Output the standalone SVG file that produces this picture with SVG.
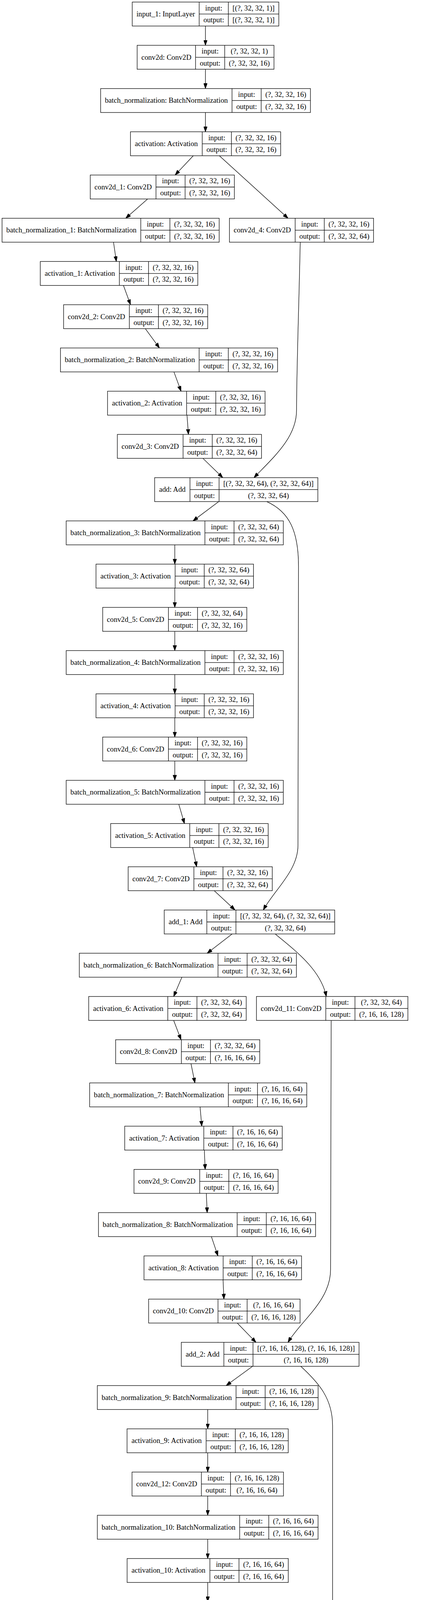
<svg xmlns="http://www.w3.org/2000/svg" width="1138" height="7377" viewBox="0 0 1138 7377">
<style>
rect.nd{fill:#fff;stroke:#000;stroke-width:1.3}
path.dv{fill:none;stroke:#000;stroke-width:1.3}
text{font-family:"Liberation Serif","Times New Roman",serif;font-size:18.67px;text-anchor:middle;fill:#000}
#edges path{fill:none;stroke:#000;stroke-width:1.3;marker-end:url(#ah)}
</style>
<defs>
<marker id="ah" viewBox="0 0 13.3 9.4" refX="13.3" refY="4.7" markerWidth="13.3" markerHeight="9.4" markerUnits="userSpaceOnUse" orient="auto"><path d="M0,0 L13.3,4.7 L0,9.4 z" fill="#000" stroke="#000" stroke-width="1"/></marker>
</defs>
<rect x="0" y="0" width="1138" height="7377" fill="#fff"/>
<g id="edges">
<path d="M525.4,66.6 L525.4,116.0"/>
<path d="M525.4,177.3 L525.4,226.7"/>
<path d="M525.4,288.0 L525.4,337.4"/>
<path d="M494.2,398.7 L447.8,448.1"/>
<path d="M561.0,398.7 L736.6,558.7"/>
<path d="M377.4,509.4 L321.5,558.7"/>
<path d="M290.3,620.0 L297.5,669.4"/>
<path d="M315.7,730.7 L333.8,780.1"/>
<path d="M371.6,841.4 L407.8,890.8"/>
<path d="M444.8,952.1 L463.0,1001.5"/>
<path d="M478.2,1062.8 L481.9,1112.1"/>
<path d="M518.9,1173.4 L569.7,1222.8"/>
<path d="M767.8,620.0 C764,800 758.4,950 758.4,1050 C758.4,1120 700,1170 649.5,1222.8"/>
<path d="M559.5,1284.1 L493.5,1333.5"/>
<path d="M682.1,1284.1 C740,1310 763.4,1360 763.4,1450 L762,2164 C762,2230 700,2280 673.4,2329.6"/>
<path d="M447.0,1394.8 L447.0,1444.2"/>
<path d="M447.0,1505.5 L447.0,1554.9"/>
<path d="M447.0,1616.2 L447.0,1665.5"/>
<path d="M447.0,1726.8 L447.0,1776.2"/>
<path d="M447.0,1837.5 L447.0,1886.9"/>
<path d="M447.0,1948.2 L447.0,1997.6"/>
<path d="M457.2,2058.9 L471.7,2108.3"/>
<path d="M492.7,2169.6 L502.9,2218.9"/>
<path d="M547.9,2280.2 L600.9,2329.6"/>
<path d="M593.6,2390.9 L529.8,2440.3"/>
<path d="M703.9,2390.9 C750,2430 820,2480 834.5,2551.0"/>
<path d="M465.2,2501.6 L444.1,2551.0"/>
<path d="M444.1,2612.3 L463.0,2661.7"/>
<path d="M488.4,2723.0 L498.5,2772.3"/>
<path d="M511.6,2833.6 L516.0,2883.0"/>
<path d="M522.5,2944.3 L524.7,2993.7"/>
<path d="M527.6,3055.0 L529.8,3104.4"/>
<path d="M540.6,3165.7 L557.3,3215.1"/>
<path d="M570.4,3276.4 L572.6,3325.7"/>
<path d="M606.7,3387.0 L654.6,3436.4"/>
<path d="M846.9,2612.3 L845.4,3250 C845.4,3330 770,3380 736.6,3436.4"/>
<path d="M645.9,3497.7 L578.4,3547.1"/>
<path d="M769.2,3497.7 C815,3540 850.5,3580 850.5,3650 L850.5,4370 C850.5,4450 790,4500 760.5,4543.2"/>
<path d="M531.2,3608.4 L531.2,3657.8"/>
<path d="M531.2,3719.1 L531.2,3768.5"/>
<path d="M531.2,3829.8 L531.2,3879.1"/>
<path d="M531.2,3940.4 L531.2,3989.8"/>
<path d="M531.2,4051.1 L531.2,4100.5"/>
<path d="M531.2,4161.8 L531.2,4211.2"/>
<path d="M541.4,4272.5 L556.0,4321.9"/>
<path d="M576.9,4383.2 L584.2,4432.5"/>
<path d="M631.3,4493.8 L683.6,4543.2"/>
<path d="M676.3,4604.5 L608.1,4653.9"/>
<path d="M792.5,4604.5 C840,4640 905,4690 921.6,4764.6"/>
<path d="M543.5,4715.2 L524.0,4764.6"/>
<path d="M524.0,4825.9 L545.7,4875.3"/>
<path d="M572.6,4936.6 L584.2,4985.9"/>
<path d="M597.2,5047.2 L602.3,5096.6"/>
<path d="M609.6,5157.9 L612.5,5207.3"/>
<path d="M615.4,5268.6 L616.8,5318.0"/>
<path d="M628.4,5379.3 L644.4,5428.7"/>
<path d="M670.5,5490.0 L689.4,5539.3"/>
<path d="M736.6,5600.6 L780.1,5650.0"/>
<path d="M936.1,4825.9 L934.7,5480 C934.7,5560 890,5610 863.6,5650.0"/>
<path d="M769.2,5711.3 L703.9,5760.7"/>
<path d="M892.6,5711.3 C935,5745 974.6,5790 974.6,5850 L972.4,6600 C972.4,6680 925,6720 899.9,6756.8"/>
<path d="M657.5,5822.0 L657.5,5871.4"/>
<path d="M657.5,5932.7 L657.5,5982.1"/>
<path d="M657.5,6043.4 L657.5,6092.7"/>
<path d="M657.5,6154.0 L657.5,6203.4"/>
<path d="M657.5,6264.7 L657.5,6314.1"/>
<path d="M657.5,6375.4 L657.5,6424.8"/>
<path d="M669.1,6486.1 L682.1,6535.5"/>
<path d="M709.7,6596.8 L727.9,6646.1"/>
<path d="M775.0,6707.4 L818.6,6756.8"/>
<path d="M853.4,6818.1 L853.4,6867.5"/>
<path d="M853.4,6928.8 L853.4,6978.2"/>
<path d="M853.4,7039.5 L853.4,7088.9"/>
<path d="M853.4,7150.2 L853.4,7199.5"/>
<path d="M853.4,7260.8 L853.4,7310.2"/>
</g>
<g id="nodes">
<g id="input_1" transform="translate(338.2,5.3)"><rect class="nd" width="374.8" height="61.3"/><path class="dv" d="M171.2,0V61.3M245.7,0V61.3M171.2,30.65H374.8"/><text x="85.6" y="36.7">input_1: InputLayer</text><text x="208.45" y="21.3">input:</text><text x="208.45" y="52">output:</text><text x="310.25" y="21.3">[(?, 32, 32, 1)]</text><text x="310.25" y="52">[(?, 32, 32, 1)]</text></g>
<g id="conv2d" transform="translate(350.7,116.0)"><rect class="nd" width="349.9" height="61.3"/><path class="dv" d="M149.4,0V61.3M223.9,0V61.3M149.4,30.65H349.9"/><text x="74.7" y="36.7">conv2d: Conv2D</text><text x="186.65" y="21.3">input:</text><text x="186.65" y="52">output:</text><text x="286.9" y="21.3">(?, 32, 32, 1)</text><text x="286.9" y="52">(?, 32, 32, 16)</text></g>
<g id="batch_normalization" transform="translate(257.4,226.7)"><rect class="nd" width="536.5" height="61.3"/><path class="dv" d="M336,0V61.3M410.5,0V61.3M336,30.65H536.5"/><text x="168" y="36.7">batch_normalization: BatchNormalization</text><text x="373.25" y="21.3">input:</text><text x="373.25" y="52">output:</text><text x="473.5" y="21.3">(?, 32, 32, 16)</text><text x="473.5" y="52">(?, 32, 32, 16)</text></g>
<g id="activation" transform="translate(333.6,337.4)"><rect class="nd" width="384.1" height="61.3"/><path class="dv" d="M183.6,0V61.3M258.1,0V61.3M183.6,30.65H384.1"/><text x="91.8" y="36.7">activation: Activation</text><text x="220.85" y="21.3">input:</text><text x="220.85" y="52">output:</text><text x="321.1" y="21.3">(?, 32, 32, 16)</text><text x="321.1" y="52">(?, 32, 32, 16)</text></g>
<g id="conv2d_1" transform="translate(230.8,448.1)"><rect class="nd" width="368.6" height="61.3"/><path class="dv" d="M168.1,0V61.3M242.6,0V61.3M168.1,30.65H368.6"/><text x="84.05" y="36.7">conv2d_1: Conv2D</text><text x="205.35" y="21.3">input:</text><text x="205.35" y="52">output:</text><text x="305.6" y="21.3">(?, 32, 32, 16)</text><text x="305.6" y="52">(?, 32, 32, 16)</text></g>
<g id="batch_normalization_1" transform="translate(5.3,558.7)"><rect class="nd" width="555.2" height="61.3"/><path class="dv" d="M354.7,0V61.3M429.2,0V61.3M354.7,30.65H555.2"/><text x="177.35" y="36.7">batch_normalization_1: BatchNormalization</text><text x="391.95" y="21.3">input:</text><text x="391.95" y="52">output:</text><text x="492.2" y="21.3">(?, 32, 32, 16)</text><text x="492.2" y="52">(?, 32, 32, 16)</text></g>
<g id="conv2d_4" transform="translate(586.7,558.7)"><rect class="nd" width="368.6" height="61.3"/><path class="dv" d="M168.1,0V61.3M242.6,0V61.3M168.1,30.65H368.6"/><text x="84.05" y="36.7">conv2d_4: Conv2D</text><text x="205.35" y="21.3">input:</text><text x="205.35" y="52">output:</text><text x="305.6" y="21.3">(?, 32, 32, 16)</text><text x="305.6" y="52">(?, 32, 32, 64)</text></g>
<g id="activation_1" transform="translate(103.0,669.4)"><rect class="nd" width="402.8" height="61.3"/><path class="dv" d="M202.3,0V61.3M276.8,0V61.3M202.3,30.65H402.8"/><text x="101.15" y="36.7">activation_1: Activation</text><text x="239.55" y="21.3">input:</text><text x="239.55" y="52">output:</text><text x="339.8" y="21.3">(?, 32, 32, 16)</text><text x="339.8" y="52">(?, 32, 32, 16)</text></g>
<g id="conv2d_2" transform="translate(162.6,780.1)"><rect class="nd" width="368.6" height="61.3"/><path class="dv" d="M168.1,0V61.3M242.6,0V61.3M168.1,30.65H368.6"/><text x="84.05" y="36.7">conv2d_2: Conv2D</text><text x="205.35" y="21.3">input:</text><text x="205.35" y="52">output:</text><text x="305.6" y="21.3">(?, 32, 32, 16)</text><text x="305.6" y="52">(?, 32, 32, 16)</text></g>
<g id="batch_normalization_2" transform="translate(154.6,890.8)"><rect class="nd" width="555.2" height="61.3"/><path class="dv" d="M354.7,0V61.3M429.2,0V61.3M354.7,30.65H555.2"/><text x="177.35" y="36.7">batch_normalization_2: BatchNormalization</text><text x="391.95" y="21.3">input:</text><text x="391.95" y="52">output:</text><text x="492.2" y="21.3">(?, 32, 32, 16)</text><text x="492.2" y="52">(?, 32, 32, 16)</text></g>
<g id="activation_2" transform="translate(275.0,1001.5)"><rect class="nd" width="402.8" height="61.3"/><path class="dv" d="M202.3,0V61.3M276.8,0V61.3M202.3,30.65H402.8"/><text x="101.15" y="36.7">activation_2: Activation</text><text x="239.55" y="21.3">input:</text><text x="239.55" y="52">output:</text><text x="339.8" y="21.3">(?, 32, 32, 16)</text><text x="339.8" y="52">(?, 32, 32, 16)</text></g>
<g id="conv2d_3" transform="translate(300.1,1112.1)"><rect class="nd" width="368.6" height="61.3"/><path class="dv" d="M168.1,0V61.3M242.6,0V61.3M168.1,30.65H368.6"/><text x="84.05" y="36.7">conv2d_3: Conv2D</text><text x="205.35" y="21.3">input:</text><text x="205.35" y="52">output:</text><text x="305.6" y="21.3">(?, 32, 32, 16)</text><text x="305.6" y="52">(?, 32, 32, 64)</text></g>
<g id="add" transform="translate(395.5,1222.8)"><rect class="nd" width="417.3" height="61.3"/><path class="dv" d="M90.3,0V61.3M164.8,0V61.3M90.3,30.65H417.3"/><text x="45.15" y="36.7">add: Add</text><text x="127.55" y="21.3">input:</text><text x="127.55" y="52">output:</text><text x="291.05" y="21.3">[(?, 32, 32, 64), (?, 32, 32, 64)]</text><text x="291.05" y="52">(?, 32, 32, 64)</text></g>
<g id="batch_normalization_3" transform="translate(169.3,1333.5)"><rect class="nd" width="555.2" height="61.3"/><path class="dv" d="M354.7,0V61.3M429.2,0V61.3M354.7,30.65H555.2"/><text x="177.35" y="36.7">batch_normalization_3: BatchNormalization</text><text x="391.95" y="21.3">input:</text><text x="391.95" y="52">output:</text><text x="492.2" y="21.3">(?, 32, 32, 64)</text><text x="492.2" y="52">(?, 32, 32, 64)</text></g>
<g id="activation_3" transform="translate(245.5,1444.2)"><rect class="nd" width="402.8" height="61.3"/><path class="dv" d="M202.3,0V61.3M276.8,0V61.3M202.3,30.65H402.8"/><text x="101.15" y="36.7">activation_3: Activation</text><text x="239.55" y="21.3">input:</text><text x="239.55" y="52">output:</text><text x="339.8" y="21.3">(?, 32, 32, 64)</text><text x="339.8" y="52">(?, 32, 32, 64)</text></g>
<g id="conv2d_5" transform="translate(262.6,1554.9)"><rect class="nd" width="368.6" height="61.3"/><path class="dv" d="M168.1,0V61.3M242.6,0V61.3M168.1,30.65H368.6"/><text x="84.05" y="36.7">conv2d_5: Conv2D</text><text x="205.35" y="21.3">input:</text><text x="205.35" y="52">output:</text><text x="305.6" y="21.3">(?, 32, 32, 64)</text><text x="305.6" y="52">(?, 32, 32, 16)</text></g>
<g id="batch_normalization_4" transform="translate(169.3,1665.5)"><rect class="nd" width="555.2" height="61.3"/><path class="dv" d="M354.7,0V61.3M429.2,0V61.3M354.7,30.65H555.2"/><text x="177.35" y="36.7">batch_normalization_4: BatchNormalization</text><text x="391.95" y="21.3">input:</text><text x="391.95" y="52">output:</text><text x="492.2" y="21.3">(?, 32, 32, 16)</text><text x="492.2" y="52">(?, 32, 32, 16)</text></g>
<g id="activation_4" transform="translate(245.5,1776.2)"><rect class="nd" width="402.8" height="61.3"/><path class="dv" d="M202.3,0V61.3M276.8,0V61.3M202.3,30.65H402.8"/><text x="101.15" y="36.7">activation_4: Activation</text><text x="239.55" y="21.3">input:</text><text x="239.55" y="52">output:</text><text x="339.8" y="21.3">(?, 32, 32, 16)</text><text x="339.8" y="52">(?, 32, 32, 16)</text></g>
<g id="conv2d_6" transform="translate(262.6,1886.9)"><rect class="nd" width="368.6" height="61.3"/><path class="dv" d="M168.1,0V61.3M242.6,0V61.3M168.1,30.65H368.6"/><text x="84.05" y="36.7">conv2d_6: Conv2D</text><text x="205.35" y="21.3">input:</text><text x="205.35" y="52">output:</text><text x="305.6" y="21.3">(?, 32, 32, 16)</text><text x="305.6" y="52">(?, 32, 32, 16)</text></g>
<g id="batch_normalization_5" transform="translate(169.3,1997.6)"><rect class="nd" width="555.2" height="61.3"/><path class="dv" d="M354.7,0V61.3M429.2,0V61.3M354.7,30.65H555.2"/><text x="177.35" y="36.7">batch_normalization_5: BatchNormalization</text><text x="391.95" y="21.3">input:</text><text x="391.95" y="52">output:</text><text x="492.2" y="21.3">(?, 32, 32, 16)</text><text x="492.2" y="52">(?, 32, 32, 16)</text></g>
<g id="activation_5" transform="translate(283.0,2108.3)"><rect class="nd" width="402.8" height="61.3"/><path class="dv" d="M202.3,0V61.3M276.8,0V61.3M202.3,30.65H402.8"/><text x="101.15" y="36.7">activation_5: Activation</text><text x="239.55" y="21.3">input:</text><text x="239.55" y="52">output:</text><text x="339.8" y="21.3">(?, 32, 32, 16)</text><text x="339.8" y="52">(?, 32, 32, 16)</text></g>
<g id="conv2d_7" transform="translate(327.7,2218.9)"><rect class="nd" width="368.6" height="61.3"/><path class="dv" d="M168.1,0V61.3M242.6,0V61.3M168.1,30.65H368.6"/><text x="84.05" y="36.7">conv2d_7: Conv2D</text><text x="205.35" y="21.3">input:</text><text x="205.35" y="52">output:</text><text x="305.6" y="21.3">(?, 32, 32, 16)</text><text x="305.6" y="52">(?, 32, 32, 64)</text></g>
<g id="add_1" transform="translate(420.0,2329.6)"><rect class="nd" width="435.9" height="61.3"/><path class="dv" d="M108.9,0V61.3M183.4,0V61.3M108.9,30.65H435.9"/><text x="54.45" y="36.7">add_1: Add</text><text x="146.15" y="21.3">input:</text><text x="146.15" y="52">output:</text><text x="309.65" y="21.3">[(?, 32, 32, 64), (?, 32, 32, 64)]</text><text x="309.65" y="52">(?, 32, 32, 64)</text></g>
<g id="batch_normalization_6" transform="translate(202.8,2440.3)"><rect class="nd" width="555.2" height="61.3"/><path class="dv" d="M354.7,0V61.3M429.2,0V61.3M354.7,30.65H555.2"/><text x="177.35" y="36.7">batch_normalization_6: BatchNormalization</text><text x="391.95" y="21.3">input:</text><text x="391.95" y="52">output:</text><text x="492.2" y="21.3">(?, 32, 32, 64)</text><text x="492.2" y="52">(?, 32, 32, 64)</text></g>
<g id="activation_6" transform="translate(226.8,2551.0)"><rect class="nd" width="402.8" height="61.3"/><path class="dv" d="M202.3,0V61.3M276.8,0V61.3M202.3,30.65H402.8"/><text x="101.15" y="36.7">activation_6: Activation</text><text x="239.55" y="21.3">input:</text><text x="239.55" y="52">output:</text><text x="339.8" y="21.3">(?, 32, 32, 64)</text><text x="339.8" y="52">(?, 32, 32, 64)</text></g>
<g id="conv2d_11" transform="translate(655.8,2551.0)"><rect class="nd" width="387.3" height="61.3"/><path class="dv" d="M177.4,0V61.3M251.9,0V61.3M177.4,30.65H387.3"/><text x="88.7" y="36.7">conv2d_11: Conv2D</text><text x="214.65" y="21.3">input:</text><text x="214.65" y="52">output:</text><text x="319.6" y="21.3">(?, 32, 32, 64)</text><text x="319.6" y="52">(?, 16, 16, 128)</text></g>
<g id="conv2d_8" transform="translate(295.7,2661.7)"><rect class="nd" width="368.6" height="61.3"/><path class="dv" d="M168.1,0V61.3M242.6,0V61.3M168.1,30.65H368.6"/><text x="84.05" y="36.7">conv2d_8: Conv2D</text><text x="205.35" y="21.3">input:</text><text x="205.35" y="52">output:</text><text x="305.6" y="21.3">(?, 32, 32, 64)</text><text x="305.6" y="52">(?, 16, 16, 64)</text></g>
<g id="batch_normalization_7" transform="translate(229.3,2772.3)"><rect class="nd" width="555.2" height="61.3"/><path class="dv" d="M354.7,0V61.3M429.2,0V61.3M354.7,30.65H555.2"/><text x="177.35" y="36.7">batch_normalization_7: BatchNormalization</text><text x="391.95" y="21.3">input:</text><text x="391.95" y="52">output:</text><text x="492.2" y="21.3">(?, 16, 16, 64)</text><text x="492.2" y="52">(?, 16, 16, 64)</text></g>
<g id="activation_7" transform="translate(318.9,2883.0)"><rect class="nd" width="402.8" height="61.3"/><path class="dv" d="M202.3,0V61.3M276.8,0V61.3M202.3,30.65H402.8"/><text x="101.15" y="36.7">activation_7: Activation</text><text x="239.55" y="21.3">input:</text><text x="239.55" y="52">output:</text><text x="339.8" y="21.3">(?, 16, 16, 64)</text><text x="339.8" y="52">(?, 16, 16, 64)</text></g>
<g id="conv2d_9" transform="translate(342.6,2993.7)"><rect class="nd" width="368.6" height="61.3"/><path class="dv" d="M168.1,0V61.3M242.6,0V61.3M168.1,30.65H368.6"/><text x="84.05" y="36.7">conv2d_9: Conv2D</text><text x="205.35" y="21.3">input:</text><text x="205.35" y="52">output:</text><text x="305.6" y="21.3">(?, 16, 16, 64)</text><text x="305.6" y="52">(?, 16, 16, 64)</text></g>
<g id="batch_normalization_8" transform="translate(251.8,3104.4)"><rect class="nd" width="555.2" height="61.3"/><path class="dv" d="M354.7,0V61.3M429.2,0V61.3M354.7,30.65H555.2"/><text x="177.35" y="36.7">batch_normalization_8: BatchNormalization</text><text x="391.95" y="21.3">input:</text><text x="391.95" y="52">output:</text><text x="492.2" y="21.3">(?, 16, 16, 64)</text><text x="492.2" y="52">(?, 16, 16, 64)</text></g>
<g id="activation_8" transform="translate(368.3,3215.1)"><rect class="nd" width="402.8" height="61.3"/><path class="dv" d="M202.3,0V61.3M276.8,0V61.3M202.3,30.65H402.8"/><text x="101.15" y="36.7">activation_8: Activation</text><text x="239.55" y="21.3">input:</text><text x="239.55" y="52">output:</text><text x="339.8" y="21.3">(?, 16, 16, 64)</text><text x="339.8" y="52">(?, 16, 16, 64)</text></g>
<g id="conv2d_10" transform="translate(380.1,3325.7)"><rect class="nd" width="387.3" height="61.3"/><path class="dv" d="M177.4,0V61.3M251.9,0V61.3M177.4,30.65H387.3"/><text x="88.7" y="36.7">conv2d_10: Conv2D</text><text x="214.65" y="21.3">input:</text><text x="214.65" y="52">output:</text><text x="319.6" y="21.3">(?, 16, 16, 64)</text><text x="319.6" y="52">(?, 16, 16, 128)</text></g>
<g id="add_2" transform="translate(463.6,3436.4)"><rect class="nd" width="454.6" height="61.3"/><path class="dv" d="M108.9,0V61.3M183.4,0V61.3M108.9,30.65H454.6"/><text x="54.45" y="36.7">add_2: Add</text><text x="146.15" y="21.3">input:</text><text x="146.15" y="52">output:</text><text x="319" y="21.3">[(?, 16, 16, 128), (?, 16, 16, 128)]</text><text x="319" y="52">(?, 16, 16, 128)</text></g>
<g id="batch_normalization_9" transform="translate(248.9,3547.1)"><rect class="nd" width="564.6" height="61.3"/><path class="dv" d="M354.7,0V61.3M429.2,0V61.3M354.7,30.65H564.6"/><text x="177.35" y="36.7">batch_normalization_9: BatchNormalization</text><text x="391.95" y="21.3">input:</text><text x="391.95" y="52">output:</text><text x="496.9" y="21.3">(?, 16, 16, 128)</text><text x="496.9" y="52">(?, 16, 16, 128)</text></g>
<g id="activation_9" transform="translate(324.9,3657.8)"><rect class="nd" width="412.2" height="61.3"/><path class="dv" d="M202.3,0V61.3M276.8,0V61.3M202.3,30.65H412.2"/><text x="101.15" y="36.7">activation_9: Activation</text><text x="239.55" y="21.3">input:</text><text x="239.55" y="52">output:</text><text x="344.5" y="21.3">(?, 16, 16, 128)</text><text x="344.5" y="52">(?, 16, 16, 128)</text></g>
<g id="conv2d_12" transform="translate(337.6,3768.5)"><rect class="nd" width="387.3" height="61.3"/><path class="dv" d="M177.4,0V61.3M251.9,0V61.3M177.4,30.65H387.3"/><text x="88.7" y="36.7">conv2d_12: Conv2D</text><text x="214.65" y="21.3">input:</text><text x="214.65" y="52">output:</text><text x="319.6" y="21.3">(?, 16, 16, 128)</text><text x="319.6" y="52">(?, 16, 16, 64)</text></g>
<g id="batch_normalization_10" transform="translate(248.9,3879.1)"><rect class="nd" width="564.5" height="61.3"/><path class="dv" d="M364,0V61.3M438.5,0V61.3M364,30.65H564.5"/><text x="182" y="36.7">batch_normalization_10: BatchNormalization</text><text x="401.25" y="21.3">input:</text><text x="401.25" y="52">output:</text><text x="501.5" y="21.3">(?, 16, 16, 64)</text><text x="501.5" y="52">(?, 16, 16, 64)</text></g>
<g id="activation_10" transform="translate(325.1,3989.8)"><rect class="nd" width="412.1" height="61.3"/><path class="dv" d="M211.6,0V61.3M286.1,0V61.3M211.6,30.65H412.1"/><text x="105.8" y="36.7">activation_10: Activation</text><text x="248.85" y="21.3">input:</text><text x="248.85" y="52">output:</text><text x="349.1" y="21.3">(?, 16, 16, 64)</text><text x="349.1" y="52">(?, 16, 16, 64)</text></g>
<g id="conv2d_13" transform="translate(342.2,4100.5)"><rect class="nd" width="377.9" height="61.3"/><path class="dv" d="M177.4,0V61.3M251.9,0V61.3M177.4,30.65H377.9"/><text x="88.7" y="36.7">conv2d_13: Conv2D</text><text x="214.65" y="21.3">input:</text><text x="214.65" y="52">output:</text><text x="314.9" y="21.3">(?, 16, 16, 64)</text><text x="314.9" y="52">(?, 16, 16, 64)</text></g>
<g id="batch_normalization_11" transform="translate(248.9,4211.2)"><rect class="nd" width="564.5" height="61.3"/><path class="dv" d="M364,0V61.3M438.5,0V61.3M364,30.65H564.5"/><text x="182" y="36.7">batch_normalization_11: BatchNormalization</text><text x="401.25" y="21.3">input:</text><text x="401.25" y="52">output:</text><text x="501.5" y="21.3">(?, 16, 16, 64)</text><text x="501.5" y="52">(?, 16, 16, 64)</text></g>
<g id="activation_11" transform="translate(362.2,4321.9)"><rect class="nd" width="412.1" height="61.3"/><path class="dv" d="M211.6,0V61.3M286.1,0V61.3M211.6,30.65H412.1"/><text x="105.8" y="36.7">activation_11: Activation</text><text x="248.85" y="21.3">input:</text><text x="248.85" y="52">output:</text><text x="349.1" y="21.3">(?, 16, 16, 64)</text><text x="349.1" y="52">(?, 16, 16, 64)</text></g>
<g id="conv2d_14" transform="translate(400.0,4432.5)"><rect class="nd" width="387.3" height="61.3"/><path class="dv" d="M177.4,0V61.3M251.9,0V61.3M177.4,30.65H387.3"/><text x="88.7" y="36.7">conv2d_14: Conv2D</text><text x="214.65" y="21.3">input:</text><text x="214.65" y="52">output:</text><text x="319.6" y="21.3">(?, 16, 16, 64)</text><text x="319.6" y="52">(?, 16, 16, 128)</text></g>
<g id="add_3" transform="translate(494.0,4543.2)"><rect class="nd" width="454.6" height="61.3"/><path class="dv" d="M108.9,0V61.3M183.4,0V61.3M108.9,30.65H454.6"/><text x="54.45" y="36.7">add_3: Add</text><text x="146.15" y="21.3">input:</text><text x="146.15" y="52">output:</text><text x="319" y="21.3">[(?, 16, 16, 128), (?, 16, 16, 128)]</text><text x="319" y="52">(?, 16, 16, 128)</text></g>
<g id="batch_normalization_12" transform="translate(272.2,4653.9)"><rect class="nd" width="573.9" height="61.3"/><path class="dv" d="M364,0V61.3M438.5,0V61.3M364,30.65H573.9"/><text x="182" y="36.7">batch_normalization_12: BatchNormalization</text><text x="401.25" y="21.3">input:</text><text x="401.25" y="52">output:</text><text x="506.2" y="21.3">(?, 16, 16, 128)</text><text x="506.2" y="52">(?, 16, 16, 128)</text></g>
<g id="activation_12" transform="translate(296.6,4764.6)"><rect class="nd" width="421.5" height="61.3"/><path class="dv" d="M211.6,0V61.3M286.1,0V61.3M211.6,30.65H421.5"/><text x="105.8" y="36.7">activation_12: Activation</text><text x="248.85" y="21.3">input:</text><text x="248.85" y="52">output:</text><text x="353.8" y="21.3">(?, 16, 16, 128)</text><text x="353.8" y="52">(?, 16, 16, 128)</text></g>
<g id="conv2d_18" transform="translate(744.0,4764.6)"><rect class="nd" width="387.3" height="61.3"/><path class="dv" d="M177.4,0V61.3M251.9,0V61.3M177.4,30.65H387.3"/><text x="88.7" y="36.7">conv2d_18: Conv2D</text><text x="214.65" y="21.3">input:</text><text x="214.65" y="52">output:</text><text x="319.6" y="21.3">(?, 16, 16, 128)</text><text x="319.6" y="52">(?, 8, 8, 256)</text></g>
<g id="conv2d_15" transform="translate(370.6,4875.3)"><rect class="nd" width="387.3" height="61.3"/><path class="dv" d="M177.4,0V61.3M251.9,0V61.3M177.4,30.65H387.3"/><text x="88.7" y="36.7">conv2d_15: Conv2D</text><text x="214.65" y="21.3">input:</text><text x="214.65" y="52">output:</text><text x="319.6" y="21.3">(?, 16, 16, 128)</text><text x="319.6" y="52">(?, 8, 8, 128)</text></g>
<g id="batch_normalization_13" transform="translate(314.9,4985.9)"><rect class="nd" width="555.2" height="61.3"/><path class="dv" d="M364,0V61.3M438.5,0V61.3M364,30.65H555.2"/><text x="182" y="36.7">batch_normalization_13: BatchNormalization</text><text x="401.25" y="21.3">input:</text><text x="401.25" y="52">output:</text><text x="496.85" y="21.3">(?, 8, 8, 128)</text><text x="496.85" y="52">(?, 8, 8, 128)</text></g>
<g id="activation_13" transform="translate(405.3,5096.6)"><rect class="nd" width="402.8" height="61.3"/><path class="dv" d="M211.6,0V61.3M286.1,0V61.3M211.6,30.65H402.8"/><text x="105.8" y="36.7">activation_13: Activation</text><text x="248.85" y="21.3">input:</text><text x="248.85" y="52">output:</text><text x="344.45" y="21.3">(?, 8, 8, 128)</text><text x="344.45" y="52">(?, 8, 8, 128)</text></g>
<g id="conv2d_16" transform="translate(429.6,5207.3)"><rect class="nd" width="368.6" height="61.3"/><path class="dv" d="M177.4,0V61.3M251.9,0V61.3M177.4,30.65H368.6"/><text x="88.7" y="36.7">conv2d_16: Conv2D</text><text x="214.65" y="21.3">input:</text><text x="214.65" y="52">output:</text><text x="310.25" y="21.3">(?, 8, 8, 128)</text><text x="310.25" y="52">(?, 8, 8, 128)</text></g>
<g id="batch_normalization_14" transform="translate(340.0,5318.0)"><rect class="nd" width="555.2" height="61.3"/><path class="dv" d="M364,0V61.3M438.5,0V61.3M364,30.65H555.2"/><text x="182" y="36.7">batch_normalization_14: BatchNormalization</text><text x="401.25" y="21.3">input:</text><text x="401.25" y="52">output:</text><text x="496.85" y="21.3">(?, 8, 8, 128)</text><text x="496.85" y="52">(?, 8, 8, 128)</text></g>
<g id="activation_14" transform="translate(456.1,5428.7)"><rect class="nd" width="402.8" height="61.3"/><path class="dv" d="M211.6,0V61.3M286.1,0V61.3M211.6,30.65H402.8"/><text x="105.8" y="36.7">activation_14: Activation</text><text x="248.85" y="21.3">input:</text><text x="248.85" y="52">output:</text><text x="344.45" y="21.3">(?, 8, 8, 128)</text><text x="344.45" y="52">(?, 8, 8, 128)</text></g>
<g id="conv2d_17" transform="translate(520.0,5539.3)"><rect class="nd" width="368.6" height="61.3"/><path class="dv" d="M177.4,0V61.3M251.9,0V61.3M177.4,30.65H368.6"/><text x="88.7" y="36.7">conv2d_17: Conv2D</text><text x="214.65" y="21.3">input:</text><text x="214.65" y="52">output:</text><text x="310.25" y="21.3">(?, 8, 8, 128)</text><text x="310.25" y="52">(?, 8, 8, 256)</text></g>
<g id="add_4" transform="translate(606.4,5650.0)"><rect class="nd" width="417.3" height="61.3"/><path class="dv" d="M108.9,0V61.3M183.4,0V61.3M108.9,30.65H417.3"/><text x="54.45" y="36.7">add_4: Add</text><text x="146.15" y="21.3">input:</text><text x="146.15" y="52">output:</text><text x="300.35" y="21.3">[(?, 8, 8, 256), (?, 8, 8, 256)]</text><text x="300.35" y="52">(?, 8, 8, 256)</text></g>
<g id="batch_normalization_15" transform="translate(379.9,5760.7)"><rect class="nd" width="555.2" height="61.3"/><path class="dv" d="M364,0V61.3M438.5,0V61.3M364,30.65H555.2"/><text x="182" y="36.7">batch_normalization_15: BatchNormalization</text><text x="401.25" y="21.3">input:</text><text x="401.25" y="52">output:</text><text x="496.85" y="21.3">(?, 8, 8, 256)</text><text x="496.85" y="52">(?, 8, 8, 256)</text></g>
<g id="activation_15" transform="translate(456.1,5871.4)"><rect class="nd" width="402.8" height="61.3"/><path class="dv" d="M211.6,0V61.3M286.1,0V61.3M211.6,30.65H402.8"/><text x="105.8" y="36.7">activation_15: Activation</text><text x="248.85" y="21.3">input:</text><text x="248.85" y="52">output:</text><text x="344.45" y="21.3">(?, 8, 8, 256)</text><text x="344.45" y="52">(?, 8, 8, 256)</text></g>
<g id="conv2d_19" transform="translate(473.2,5982.1)"><rect class="nd" width="368.6" height="61.3"/><path class="dv" d="M177.4,0V61.3M251.9,0V61.3M177.4,30.65H368.6"/><text x="88.7" y="36.7">conv2d_19: Conv2D</text><text x="214.65" y="21.3">input:</text><text x="214.65" y="52">output:</text><text x="310.25" y="21.3">(?, 8, 8, 256)</text><text x="310.25" y="52">(?, 8, 8, 128)</text></g>
<g id="batch_normalization_16" transform="translate(379.9,6092.7)"><rect class="nd" width="555.2" height="61.3"/><path class="dv" d="M364,0V61.3M438.5,0V61.3M364,30.65H555.2"/><text x="182" y="36.7">batch_normalization_16: BatchNormalization</text><text x="401.25" y="21.3">input:</text><text x="401.25" y="52">output:</text><text x="496.85" y="21.3">(?, 8, 8, 128)</text><text x="496.85" y="52">(?, 8, 8, 128)</text></g>
<g id="activation_16" transform="translate(456.1,6203.4)"><rect class="nd" width="402.8" height="61.3"/><path class="dv" d="M211.6,0V61.3M286.1,0V61.3M211.6,30.65H402.8"/><text x="105.8" y="36.7">activation_16: Activation</text><text x="248.85" y="21.3">input:</text><text x="248.85" y="52">output:</text><text x="344.45" y="21.3">(?, 8, 8, 128)</text><text x="344.45" y="52">(?, 8, 8, 128)</text></g>
<g id="conv2d_20" transform="translate(473.2,6314.1)"><rect class="nd" width="368.6" height="61.3"/><path class="dv" d="M177.4,0V61.3M251.9,0V61.3M177.4,30.65H368.6"/><text x="88.7" y="36.7">conv2d_20: Conv2D</text><text x="214.65" y="21.3">input:</text><text x="214.65" y="52">output:</text><text x="310.25" y="21.3">(?, 8, 8, 128)</text><text x="310.25" y="52">(?, 8, 8, 128)</text></g>
<g id="batch_normalization_17" transform="translate(379.9,6424.8)"><rect class="nd" width="555.2" height="61.3"/><path class="dv" d="M364,0V61.3M438.5,0V61.3M364,30.65H555.2"/><text x="182" y="36.7">batch_normalization_17: BatchNormalization</text><text x="401.25" y="21.3">input:</text><text x="401.25" y="52">output:</text><text x="496.85" y="21.3">(?, 8, 8, 128)</text><text x="496.85" y="52">(?, 8, 8, 128)</text></g>
<g id="activation_17" transform="translate(495.3,6535.5)"><rect class="nd" width="402.8" height="61.3"/><path class="dv" d="M211.6,0V61.3M286.1,0V61.3M211.6,30.65H402.8"/><text x="105.8" y="36.7">activation_17: Activation</text><text x="248.85" y="21.3">input:</text><text x="248.85" y="52">output:</text><text x="344.45" y="21.3">(?, 8, 8, 128)</text><text x="344.45" y="52">(?, 8, 8, 128)</text></g>
<g id="conv2d_21" transform="translate(558.4,6646.1)"><rect class="nd" width="368.6" height="61.3"/><path class="dv" d="M177.4,0V61.3M251.9,0V61.3M177.4,30.65H368.6"/><text x="88.7" y="36.7">conv2d_21: Conv2D</text><text x="214.65" y="21.3">input:</text><text x="214.65" y="52">output:</text><text x="310.25" y="21.3">(?, 8, 8, 128)</text><text x="310.25" y="52">(?, 8, 8, 256)</text></g>
<g id="add_5" transform="translate(645.2,6756.8)"><rect class="nd" width="417.3" height="61.3"/><path class="dv" d="M108.9,0V61.3M183.4,0V61.3M108.9,30.65H417.3"/><text x="54.45" y="36.7">add_5: Add</text><text x="146.15" y="21.3">input:</text><text x="146.15" y="52">output:</text><text x="300.35" y="21.3">[(?, 8, 8, 256), (?, 8, 8, 256)]</text><text x="300.35" y="52">(?, 8, 8, 256)</text></g>
<g id="batch_normalization_18" transform="translate(576.2,6867.5)"><rect class="nd" width="555.2" height="61.3"/><path class="dv" d="M364,0V61.3M438.5,0V61.3M364,30.65H555.2"/><text x="182" y="36.7">batch_normalization_18: BatchNormalization</text><text x="401.25" y="21.3">input:</text><text x="401.25" y="52">output:</text><text x="496.85" y="21.3">(?, 8, 8, 256)</text><text x="496.85" y="52">(?, 8, 8, 256)</text></g>
<g id="activation_18" transform="translate(652.4,6978.2)"><rect class="nd" width="402.8" height="61.3"/><path class="dv" d="M211.6,0V61.3M286.1,0V61.3M211.6,30.65H402.8"/><text x="105.8" y="36.7">activation_18: Activation</text><text x="248.85" y="21.3">input:</text><text x="248.85" y="52">output:</text><text x="344.45" y="21.3">(?, 8, 8, 256)</text><text x="344.45" y="52">(?, 8, 8, 256)</text></g>
<g id="average_pooling2d" transform="translate(599.0,7088.9)"><rect class="nd" width="509.6" height="61.3"/><path class="dv" d="M318.4,0V61.3M392.9,0V61.3M318.4,30.65H509.6"/><text x="159.2" y="36.7">average_pooling2d: AveragePooling2D</text><text x="355.65" y="21.3">input:</text><text x="355.65" y="52">output:</text><text x="451.25" y="21.3">(?, 8, 8, 256)</text><text x="451.25" y="52">(?, 1, 1, 256)</text></g>
<g id="flatten" transform="translate(692.9,7199.5)"><rect class="nd" width="321.9" height="61.3"/><path class="dv" d="M130.7,0V61.3M205.2,0V61.3M130.7,30.65H321.9"/><text x="65.35" y="36.7">flatten: Flatten</text><text x="167.95" y="21.3">input:</text><text x="167.95" y="52">output:</text><text x="263.55" y="21.3">(?, 1, 1, 256)</text><text x="263.55" y="52">(?, 256)</text></g>
<g id="dense" transform="translate(716.7,7310.2)"><rect class="nd" width="274.2" height="61.3"/><path class="dv" d="M120.3,0V61.3M194.8,0V61.3M120.3,30.65H274.2"/><text x="60.15" y="36.7">dense: Dense</text><text x="157.55" y="21.3">input:</text><text x="157.55" y="52">output:</text><text x="234.5" y="21.3">(?, 256)</text><text x="234.5" y="52">(?, 10)</text></g>
</g>
</svg>
